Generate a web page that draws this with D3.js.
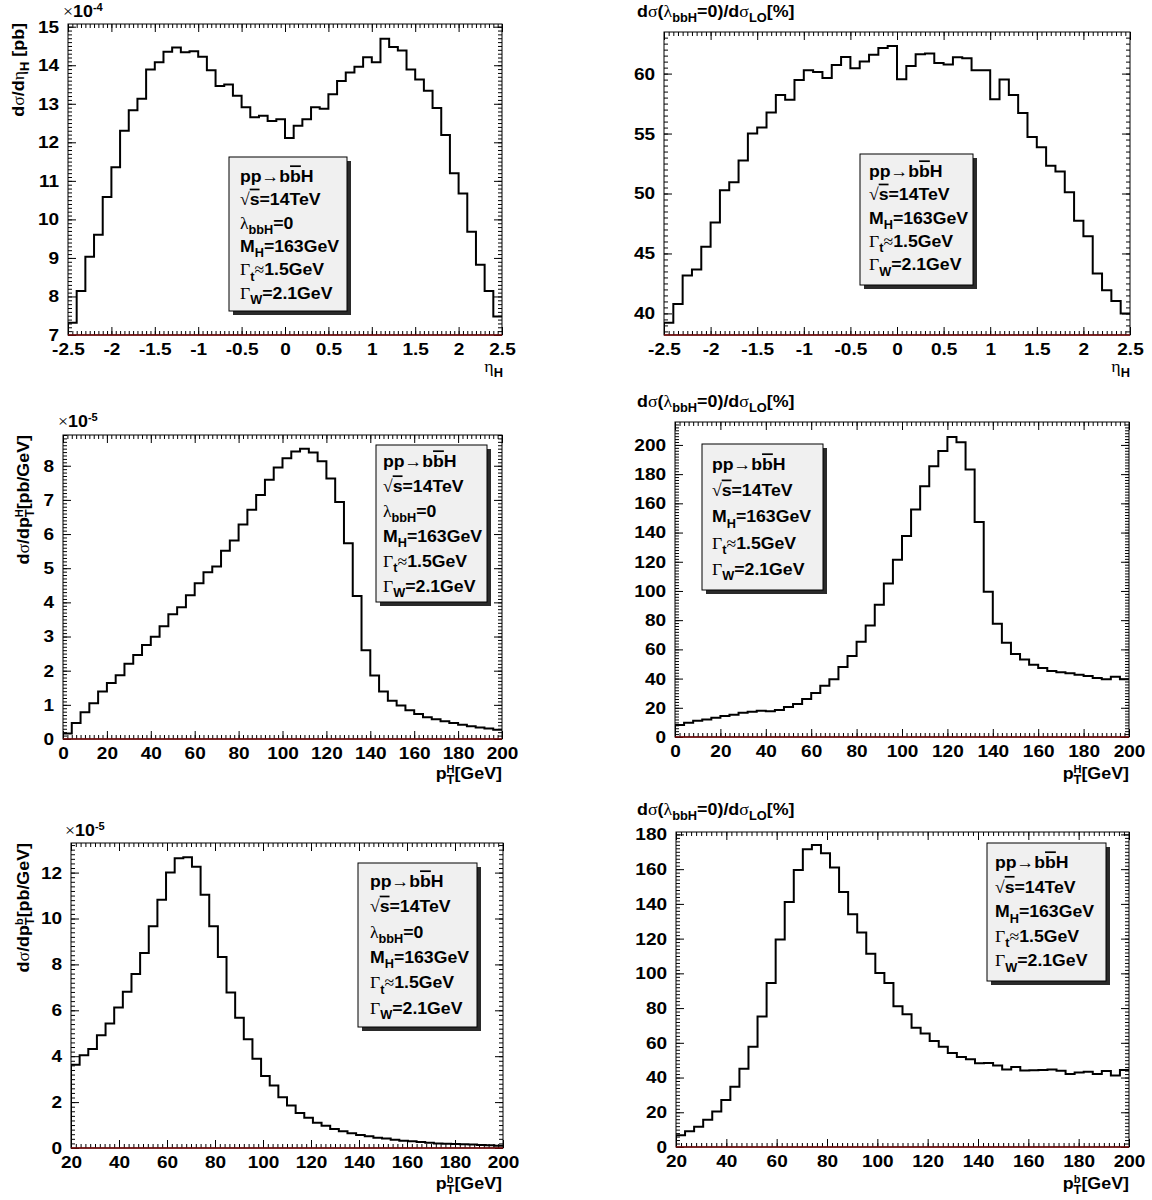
<!DOCTYPE html>
<html><head><meta charset="utf-8">
<script src="https://cdn.jsdelivr.net/npm/d3@7"></script>
<style>
body{margin:0;background:#fff}
text{font-family:"Liberation Sans",Arial,Helvetica,sans-serif;font-weight:bold;fill:#000}
</style>
</head><body>
<script>
// ---------------- data (50 bins each) ----------------
const etaRange = [-2.5, 2.5];
const ptHRange = [0, 200];
const ptbRange = [20, 200];

// d sigma / d eta_H  [x 1e-4 pb]
const etaDist = [7.32, 8.14, 9.03, 9.60, 10.58, 11.35, 12.30, 12.83, 13.13, 13.89,
  14.08, 14.35, 14.46, 14.34, 14.36, 14.22, 13.87, 13.46, 13.50, 13.21,
  12.91, 12.65, 12.69, 12.55, 12.60, 12.11, 12.43, 12.60, 12.91, 12.87,
  13.25, 13.59, 13.81, 13.96, 14.21, 14.08, 14.69, 14.47, 14.38, 13.89,
  13.63, 13.34, 12.89, 12.19, 11.20, 10.67, 9.68, 8.82, 8.14, 7.48];
// ratio vs eta_H [%]
const etaRatio = [39.22, 40.78, 43.17, 43.67, 45.56, 47.58, 50.28, 50.94, 52.75, 55.0,
  55.5, 56.75, 58.22, 57.83, 59.47, 60.28, 60.14, 59.64, 60.72, 61.39,
  60.44, 61.0, 61.58, 62.14, 62.31, 59.53, 60.64, 61.61, 61.67, 60.89,
  60.75, 61.36, 61.28, 60.28, 60.28, 57.86, 59.5, 58.22, 56.72, 54.72,
  53.86, 52.31, 51.83, 50.11, 47.72, 46.44, 43.33, 41.94, 41.03, 40.0];
// d sigma / d pT^H [x 1e-5 pb/GeV]
const ptHDist = [0.16, 0.47, 0.78, 1.05, 1.39, 1.64, 1.87, 2.20, 2.46, 2.75,
  2.99, 3.30, 3.65, 3.86, 4.21, 4.56, 4.88, 5.05, 5.51, 5.81,
  6.28, 6.71, 7.14, 7.59, 7.95, 8.22, 8.42, 8.50, 8.39, 8.13,
  7.63, 6.94, 5.73, 4.19, 2.60, 1.86, 1.39, 1.12, 0.98, 0.84,
  0.73, 0.64, 0.58, 0.52, 0.47, 0.42, 0.37, 0.34, 0.31, 0.27];
// ratio vs pT^H [%]
const ptHRatio = [8.2, 9.8, 11.2, 11.9, 13.2, 14.4, 15.3, 16.6, 17.3, 18.0,
  17.6, 18.5, 20.5, 22.6, 26.0, 30.1, 35.1, 39.5, 47.9, 55.4,
  65.2, 76.4, 90.5, 105.1, 121.3, 137.7, 155.8, 171.7, 185.4, 195.9,
  205.5, 201.8, 183.1, 147.3, 99.4, 77.5, 64.5, 56.8, 53.1, 49.5,
  47.2, 45.2, 44.3, 43.6, 42.6, 41.7, 40.4, 39.5, 41.3, 39.5];
// d sigma / d pT^b [x 1e-5 pb/GeV]
const ptbDist = [3.63, 4.04, 4.31, 4.91, 5.42, 6.12, 6.81, 7.58, 8.50, 9.66,
  10.82, 12.0, 12.63, 12.67, 12.25, 11.04, 9.66, 8.32, 6.78, 5.68,
  4.74, 3.89, 3.14, 2.72, 2.21, 1.85, 1.53, 1.32, 1.10, 0.97,
  0.83, 0.73, 0.64, 0.57, 0.51, 0.45, 0.41, 0.36, 0.32, 0.29,
  0.26, 0.23, 0.20, 0.19, 0.17, 0.16, 0.15, 0.13, 0.12, 0.10];
// ratio vs pT^b [%]
const ptbRatio = [6.7, 9.0, 11.7, 15.7, 20.5, 27.0, 34.7, 45.0, 57.8, 75.1,
  94.4, 119.5, 141.1, 159.5, 171.4, 173.9, 169.1, 160.9, 146.9, 134.0,
  123.5, 111.3, 100.2, 94.4, 81.0, 76.4, 68.7, 65.3, 61.1, 57.8,
  54.2, 51.9, 50.6, 48.3, 48.4, 46.9, 44.6, 46.0, 44.0, 44.2,
  44.4, 44.6, 43.9, 42.1, 42.9, 43.3, 42.1, 43.7, 41.2, 44.4];

// tick labels
const etaTicks = [-2.5, -2, -1.5, -1, -0.5, 0, 0.5, 1, 1.5, 2, 2.5];
const etaTickLabels = ["-2.5", "-2", "-1.5", "-1", "-0.5", "0", "0.5", "1", "1.5", "2", "2.5"];
const ptHTicks = [0, 20, 40, 60, 80, 100, 120, 140, 160, 180, 200];
const ptbTicks = [20, 40, 60, 80, 100, 120, 140, 160, 180, 200];
const yTicks1 = [7, 8, 9, 10, 11, 12, 13, 14, 15];
const yTicks2 = [40, 45, 50, 55, 60];
const yTicks3 = [0, 1, 2, 3, 4, 5, 6, 7, 8];
const yTicks4 = [0, 20, 40, 60, 80, 100, 120, 140, 160, 180, 200];
const yTicks5 = [0, 2, 4, 6, 8, 10, 12];
const yTicks6 = [0, 20, 40, 60, 80, 100, 120, 140, 160, 180];

// legend lines
const SYM = true;
const legendFull = [
  [{t:"pp"},{t:"\u2192",sym:SYM},{t:"b"},{t:"b",over:true},{t:"H"}],
  [{t:"\u221A",sym:SYM},{t:"s",over:true},{t:"=14TeV"}],
  [{t:"\u03BB",sym:SYM},{t:"bbH",sub:true},{t:"=0"}],
  [{t:"M"},{t:"H",sub:true},{t:"=163GeV"}],
  [{t:"\u0393",sym:SYM},{t:"t",sub:true},{t:"\u2248",sym:SYM},{t:"1.5GeV"}],
  [{t:"\u0393",sym:SYM},{t:"W",sub:true},{t:"=2.1GeV"}]
];
const legendShort = [legendFull[0], legendFull[1], legendFull[3], legendFull[4], legendFull[5]];

const ratioTitle = [{t:"d"},{t:"\u03C3",sym:SYM},{t:"("},{t:"\u03BB",sym:SYM},{t:"bbH",sub:true},{t:"=0)/d"},{t:"\u03C3",sym:SYM},{t:"LO",sub:true},{t:"[%]"}];

// ---------------- drawing ----------------
const W = 1152, H = 1200;
const TICK_SX = 1.12;
const svg = d3.select("body").append("svg").attr("width", W).attr("height", H)
  .style("background", "#fff");

function rich(parent, x, y, segs, opts) {
  opts = opts || {};
  const fs = opts.size || 17;
  const sx = opts.sx || 1.05;
  const t = parent.append("text").attr("x", 0).attr("y", 0)
    .attr("font-size", fs).attr("text-anchor", opts.anchor || "start")
    .attr("transform", `translate(${x},${y})` + (opts.rotate ? " rotate(-90)" : "") + ` scale(${sx},1)`);
  let cur = 0;
  segs.forEach(s => {
    const sp = t.append("tspan").text(s.t);
    let target = 0, size = fs;
    if (s.sub) { target = fs * 0.32; size = fs * 0.72; }
    if (s.sup) { target = -fs * 0.36; size = fs * 0.62; }
    if (target - cur !== 0) sp.attr("dy", target - cur);
    cur = target;
    if (size !== fs) sp.attr("font-size", size);
    if (s.dx) sp.attr("dx", s.dx);
    if (s.sym) sp.style("font-family", '"Liberation Serif","DejaVu Serif",serif').style("font-weight", "normal");
    if (s.over) sp.style("text-decoration", "overline");
  });
  return t;
}

function panel(cfg) {
  const {L, R, T, B} = cfg.frame;
  const x = d3.scaleLinear().domain(cfg.xdom).range([L, R]);
  const y = d3.scaleLinear().domain(cfg.ydom).range([B, T]);
  const g = svg.append("g");
  const id = "clip" + cfg.id;
  svg.append("clipPath").attr("id", id).append("rect")
    .attr("x", L).attr("y", T).attr("width", R - L).attr("height", B - T);

  // minor ticks
  const xMinor = d3.range(cfg.xdom[0], cfg.xdom[1] + 1e-9, cfg.xminor);
  const yMinor = d3.range(cfg.ymajor[0] - Math.floor((cfg.ymajor[0] - cfg.ydom[0]) / cfg.yminor + 1e-9) * cfg.yminor,
    cfg.ydom[1] + 1e-9, cfg.yminor).filter(v => v >= cfg.ydom[0] - 1e-9);
  const mk = (axis, tr) => { const a = g.append("g").attr("transform", tr).call(axis);
    a.select(".domain").remove(); a.selectAll("line").attr("stroke", "#000"); return a; };

  mk(d3.axisBottom(x).tickValues(xMinor).tickSize(-4).tickFormat(""), `translate(0,${B})`);
  mk(d3.axisTop(x).tickValues(xMinor).tickSize(-4).tickFormat(""), `translate(0,${T})`);
  mk(d3.axisLeft(y).tickValues(yMinor).tickSize(-4).tickFormat(""), `translate(${L},0)`);
  mk(d3.axisRight(y).tickValues(yMinor).tickSize(-4).tickFormat(""), `translate(${R},0)`);

  // major ticks + labels
  const xa = mk(d3.axisBottom(x).tickValues(cfg.xmajor).tickSize(-8).tickPadding(8)
    .tickFormat((d, i) => cfg.xlabels ? cfg.xlabels[i] : String(d)), `translate(0,${B})`);
  xa.selectAll("text").attr("font-size", 17).attr("fill", "#000")
    .attr("transform", `scale(${TICK_SX},1)`)
    .style("font-family", '"Liberation Sans",Arial,sans-serif').style("font-weight", "bold");
  mk(d3.axisTop(x).tickValues(cfg.xmajor).tickSize(-8).tickFormat(""), `translate(0,${T})`);
  const ya = mk(d3.axisLeft(y).tickValues(cfg.ymajor).tickSize(-8).tickPadding(8)
    .tickFormat(d => String(d)), `translate(${L},0)`);
  ya.selectAll("text").attr("font-size", 17).attr("fill", "#000")
    .attr("transform", `scale(${TICK_SX},1)`)
    .style("font-family", '"Liberation Sans",Arial,sans-serif').style("font-weight", "bold");
  mk(d3.axisRight(y).tickValues(cfg.ymajor).tickSize(-8).tickFormat(""), `translate(${R},0)`);

  // histogram (step line)
  const n = cfg.data.length;
  const bw = (cfg.xdom[1] - cfg.xdom[0]) / n;
  const p = d3.path();
  cfg.data.forEach((v, i) => {
    const x0 = x(cfg.xdom[0] + i * bw), x1 = x(cfg.xdom[0] + (i + 1) * bw);
    if (i === 0) { p.moveTo(x0, y(cfg.ydom[0])); p.lineTo(x0, y(v)); }
    else p.lineTo(x0, y(v));
    p.lineTo(x1, y(v));
  });
  g.append("path").attr("d", p.toString()).attr("fill", "none").attr("stroke", "#000")
    .attr("stroke-width", 2).attr("clip-path", `url(#${id})`);

  // frame
  g.append("rect").attr("x", L).attr("y", T).attr("width", R - L).attr("height", B - T)
    .attr("fill", "none").attr("stroke", "#000").attr("stroke-width", 1);
  g.append("line").attr("x1", L).attr("x2", R).attr("y1", B).attr("y2", B)
    .attr("stroke", "#7a0a0a").attr("stroke-width", 1.5);

  // legend box
  const bx = cfg.box;
  g.append("rect").attr("x", bx.x + 4).attr("y", bx.y + 4).attr("width", bx.w).attr("height", bx.h)
    .attr("fill", "#2a2a2a");
  g.append("rect").attr("x", bx.x).attr("y", bx.y).attr("width", bx.w).attr("height", bx.h)
    .attr("fill", "#f0f0f0").attr("stroke", "#000").attr("stroke-width", 1);
  cfg.legend.forEach((line, i) => rich(g, bx.tx, bx.ty + i * bx.dy, line, {size: 17, sx: 1.04}));

  // titles
  cfg.titles.forEach(tt => rich(g, tt.x, tt.y, tt.segs, tt.opts));
}

const sigmaSeg = {t:"\u03C3", sym:SYM};
panel({id:1, frame:{L:68, R:502, T:24, B:335}, xdom:etaRange, ydom:[7, 15.07],
  xmajor:etaTicks, xlabels:etaTickLabels, xminor:0.05, ymajor:yTicks1, yminor:0.1, data:etaDist,
  box:{x:229, y:157, w:118, h:154, tx:240, ty:182, dy:23.3}, legend:legendFull,
  titles:[
    {x:24, y:23, segs:[{t:"d"},sigmaSeg,{t:"/d"},{t:"\u03B7",sym:SYM},{t:"H",sub:true},{t:" [pb]"}], opts:{rotate:true, anchor:"end", size:17}},
    {x:63, y:17, segs:[{t:"\u00D7",sym:SYM},{t:"10"},{t:"-4",sup:true}], opts:{size:17}},
    {x:503, y:372, segs:[{t:"\u03B7",sym:SYM},{t:"H",sub:true}], opts:{anchor:"end", size:17}}
  ]});

panel({id:2, frame:{L:664, R:1130, T:32, B:335}, xdom:etaRange, ydom:[38.2, 63.47],
  xmajor:etaTicks, xlabels:etaTickLabels, xminor:0.05, ymajor:yTicks2, yminor:0.5, data:etaRatio,
  box:{x:860, y:154, w:113, h:131, tx:869, ty:177, dy:23.3}, legend:legendShort,
  titles:[
    {x:637, y:17, segs:ratioTitle, opts:{size:17}},
    {x:1130, y:372, segs:[{t:"\u03B7",sym:SYM},{t:"H",sub:true}], opts:{anchor:"end", size:17}}
  ]});

panel({id:3, frame:{L:63, R:502, T:435, B:739}, xdom:ptHRange, ydom:[0, 8.9],
  xmajor:ptHTicks, xminor:2, ymajor:yTicks3, yminor:0.1, data:ptHDist,
  box:{x:376, y:445, w:111, h:157, tx:383, ty:467, dy:25}, legend:legendFull,
  titles:[
    {x:29, y:435, segs:[{t:"d"},sigmaSeg,{t:"/dp"},{t:"H",sup:true},{t:"T",sub:true,dx:-7.6},{t:"[pb/GeV]"}], opts:{rotate:true, anchor:"end", size:17}},
    {x:58, y:427, segs:[{t:"\u00D7",sym:SYM},{t:"10"},{t:"-5",sup:true}], opts:{size:17}},
    {x:502, y:779, segs:[{t:"p"},{t:"H",sup:true},{t:"T",sub:true,dx:-7.6},{t:"[GeV]"}], opts:{anchor:"end", size:17}}
  ]});

panel({id:4, frame:{L:675, R:1129, T:422, B:737}, xdom:ptHRange, ydom:[0, 215.7],
  xmajor:ptHTicks, xminor:2, ymajor:yTicks4, yminor:2, data:ptHRatio,
  box:{x:702, y:444, w:121, h:146, tx:712, ty:470, dy:26.2}, legend:legendShort,
  titles:[
    {x:637, y:407, segs:ratioTitle, opts:{size:17}},
    {x:1129, y:779, segs:[{t:"p"},{t:"H",sup:true},{t:"T",sub:true,dx:-7.6},{t:"[GeV]"}], opts:{anchor:"end", size:17}}
  ]});

panel({id:5, frame:{L:71, R:503, T:843, B:1148}, xdom:ptbRange, ydom:[0, 13.29],
  xmajor:ptbTicks, xminor:2, ymajor:yTicks5, yminor:0.2, data:ptbDist,
  box:{x:358, y:863, w:119, h:164, tx:370, ty:887, dy:25.3}, legend:legendFull,
  titles:[
    {x:29, y:843, segs:[{t:"d"},sigmaSeg,{t:"/dp"},{t:"b",sup:true},{t:"T",sub:true,dx:-6.5},{t:"[pb/GeV]"}], opts:{rotate:true, anchor:"end", size:17}},
    {x:65, y:836, segs:[{t:"\u00D7",sym:SYM},{t:"10"},{t:"-5",sup:true}], opts:{size:17}},
    {x:502, y:1189, segs:[{t:"p"},{t:"b",sup:true},{t:"T",sub:true,dx:-6.5},{t:"[GeV]"}], opts:{anchor:"end", size:17}}
  ]});

panel({id:6, frame:{L:676, R:1129, T:832, B:1147}, xdom:ptbRange, ydom:[0, 181.4],
  xmajor:ptbTicks, xminor:2, ymajor:yTicks6, yminor:2, data:ptbRatio,
  box:{x:987, y:843, w:119, h:138, tx:995, ty:868, dy:24.6}, legend:legendShort,
  titles:[
    {x:637, y:815, segs:ratioTitle, opts:{size:17}},
    {x:1129, y:1189, segs:[{t:"p"},{t:"b",sup:true},{t:"T",sub:true,dx:-6.5},{t:"[GeV]"}], opts:{anchor:"end", size:17}}
  ]});
</script>
</body></html>
